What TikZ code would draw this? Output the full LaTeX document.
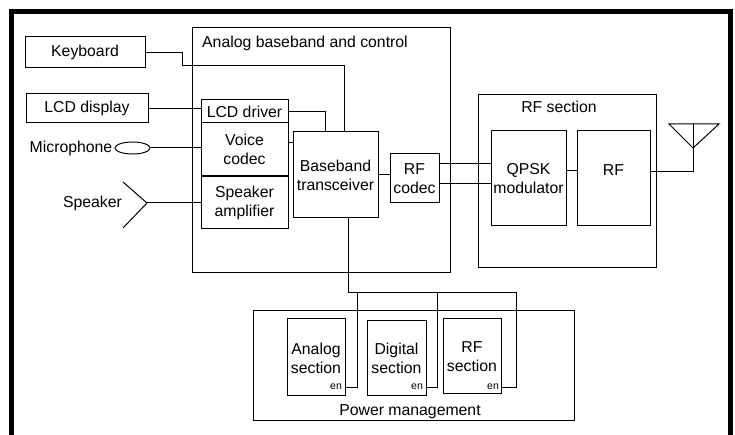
\documentclass[tikz,border=0pt]{standalone}
\usepackage{fontspec}
\setmainfont{Liberation Sans}
\usetikzlibrary{shapes.geometric}
\newcommand\dfont{\fontsize{15.8}{19}\selectfont}
\newcommand\efont{\fontsize{10.5}{12}\selectfont}
\begin{document}
\begin{tikzpicture}[x=1pt,y=-1pt,
  bx/.style={draw,line width=1pt,inner sep=0pt,align=center,font=\dfont},
  wire/.style={line width=1pt},
  lbl/.style={inner sep=0pt,font=\dfont,align=center},
  enl/.style={inner sep=0pt,font=\efont}]
\useasboundingbox (0,0) rectangle (735,435);
\begin{scope}
\clip (0,0) rectangle (735,435);
\draw[line width=5pt] (11.5,445) -- (11.5,11.5) -- (730,11.5) -- (730,445);
\end{scope}
% analog baseband and control
\node[bx,minimum width=258,minimum height=245.6] (abc) at (321,150) {};
\node[lbl,anchor=west] (abct) at (202,43) {Analog baseband and control};
\node[bx,minimum width=120,minimum height=31] (kb) at (85,52.5) {Keyboard};
\node[bx,minimum width=122,minimum height=29] (lcdd) at (87,108.5) {LCD display};
\node[bx,minimum width=87,minimum height=23] (lcdr) at (244.5,111.5) {LCD driver};
\node[bx,minimum width=87,minimum height=53] (vc) at (244.5,149.5) {Voice\\codec};
\node[bx,minimum width=87,minimum height=53] (sa) at (244.5,202.5) {Speaker\\amplifier};
\draw[line width=2pt] (vc.south west) -- (vc.south east);
\node[bx,minimum width=85,minimum height=86] (bb) at (335.5,175) {Baseband\\transceiver};
\node[bx,minimum width=49,minimum height=49] (rfc) at (414.5,178.5) {RF\\codec};
% RF section
\node[bx,minimum width=178,minimum height=173] (rfs) at (567,181.5) {};
\node[lbl] (rfst) at (559,107) {RF section};
\node[bx,minimum width=75,minimum height=95] (qpsk) at (528.5,178.5) {QPSK\\modulator};
\node[bx,minimum width=73,minimum height=95] (rf) at (613.5,178.5) {};
\node[lbl] (rft) at (613.5,170) {RF};
% microphone & speaker
\node[draw,line width=1pt,ellipse,inner sep=0pt,minimum width=35,minimum height=12] (mic) at (132.5,148) {};
\node[lbl,anchor=east] (mict) at ([xshift=-2pt]mic.west) {Microphone};
\coordinate (spk) at (147,203);
\draw[wire] (123,182) -- (spk) -- (123,228);
\node[lbl] (spkt) at (92.5,203) {Speaker};
% antenna
\coordinate (antt) at (693,124);
\coordinate (antb) at (693,148);
\coordinate (antf) at (693,172);
\draw[wire,line join=miter] (669,124) -- (719,124) -- (antb) -- cycle;
% power management
\node[bx,minimum width=321,minimum height=110] (pm) at (413.5,365) {};
\node[lbl] (pmt) at (410,412) {Power management};
\node[bx,minimum width=58,minimum height=77] (as) at (316,356.5) {};
\node[lbl] (ast) at (316,358) {Analog\\section};
\node[bx,minimum width=59,minimum height=75] (ds) at (396.5,357.5) {};
\node[lbl] (dst) at (396.5,358.5) {Digital\\section};
\node[bx,minimum width=58,minimum height=75] (rs) at (472,355.5) {};
\node[lbl] (rst) at (472,356.5) {RF\\section};
\node[enl] (en1) at (336,387) {en};
\node[enl] (en2) at (417,387) {en};
\node[enl] (en3) at (493,387) {en};
% wires
\draw[wire] (kb.east) -| (182,66) -| (bb.north -| 344,0);
\draw[wire] (lcdd.east) -- (lcdr.west |- lcdd.east);
\draw[wire] (lcdr.east) -| (bb.north -| 325,0);
\draw[wire] (mic.east) -- (vc.west |- mic.east);
\draw[wire] (spk) -- (sa.west |- spk);
\draw[wire] (vc.east |- 0,143) -- (bb.west |- 0,143);
\draw[wire] (bb.east) -- (rfc.west |- bb.east);
\draw[wire] (rfc.east |- 0,164) -- (qpsk.west |- 0,164);
\draw[wire] (rfc.east |- 0,184) -- (qpsk.west |- 0,184);
\draw[wire] (qpsk.east |- 0,171) -- (rf.west |- 0,171);
\draw[wire] (rf.east |- antf) -- (antf) -- (antt);
\coordinate (bus) at (348,292);
\draw[wire] (bb.south -| bus) -- (bus) -- (516,292);
\draw[wire] (as.east |- 0,387) -| (357,292);
\draw[wire] (ds.east |- 0,387) -| (437,292);
\draw[wire] (rs.east |- 0,387) -| (516,292);
\end{tikzpicture}
\end{document}
